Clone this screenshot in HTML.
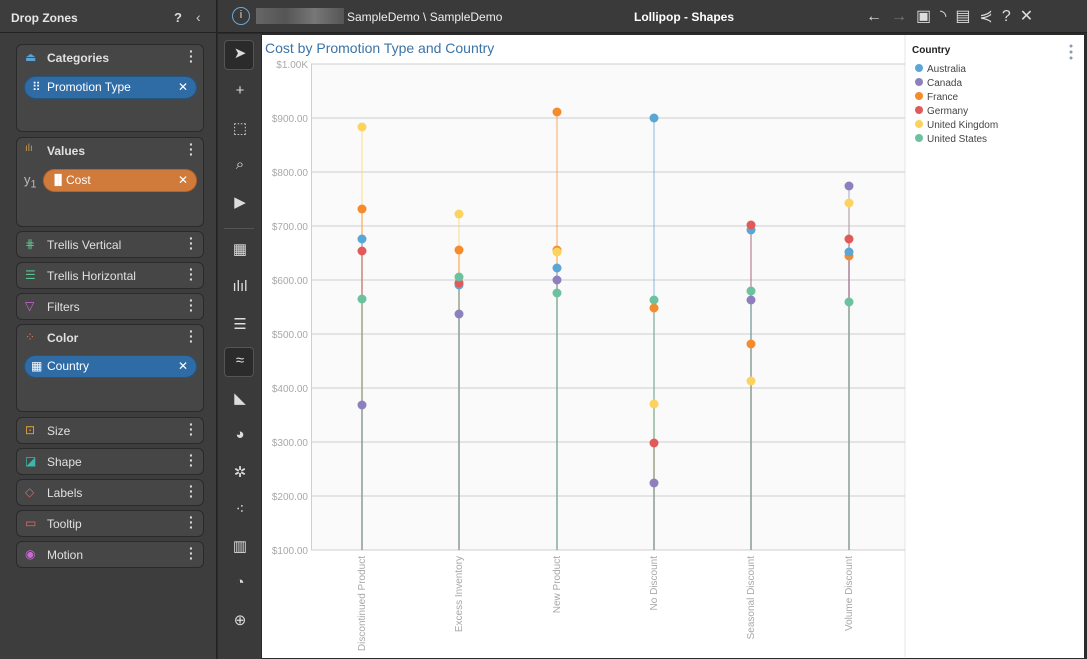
<!DOCTYPE html>
<html><head><meta charset="utf-8"><style>
*{box-sizing:border-box;margin:0;padding:0}
body{width:1087px;height:659px;background:#2b2b2b;font-family:"Liberation Sans",sans-serif;overflow:hidden;position:relative}
.a{position:absolute}
.card{position:absolute;left:16px;width:188px;background:#464646;border:1px solid #2a2a2a;border-radius:6px;color:#e0e0e0;font-size:12px}
.card .t{position:absolute;left:30px;top:6px;font-weight:bold}
.card .ic{position:absolute;left:8px;top:5px;font-size:12px}
.card .dots{position:absolute;right:10px;top:4px;font-weight:bold;font-size:14px;line-height:5px;width:4px;color:#ddd}
.pill{position:absolute;left:7px;width:173px;height:23px;border-radius:12px;color:#fff;font-size:12px;line-height:21px;padding-left:22px}
.pill .x{position:absolute;right:8px;top:0}
.tb{position:absolute;left:226px;width:28px;text-align:center;color:#ddd;font-size:15px}
</style></head><body>
<!-- left panel -->
<div class="a" style="left:0;top:0;width:217px;height:659px;background:#3d3d3d;border-right:1px solid #222"></div>
<div class="a" style="left:0;top:32px;width:217px;height:1px;background:#222"></div>
<div class="a" style="left:11px;top:11px;color:#e6e6e6;font-size:12px;font-weight:bold">Drop Zones</div>
<div class="a" style="left:174px;top:10px;color:#ddd;font-size:13px;font-weight:bold">?</div>
<div class="a" style="left:196px;top:9px;color:#ccc;font-size:14px">‹</div>

<div class="card" style="top:44px;height:88px"><span class="ic" style="color:#5ba3d6">⏏</span><span class="t">Categories</span><div class="dots">·<br>·<br>·</div>
<div class="pill" style="top:31px;background:#2f6ca6;border:1px solid #24557f"><span style="position:absolute;left:7px">⠿</span>Promotion Type<span class="x">✕</span></div></div>
<div class="card" style="top:137px;height:90px"><span class="ic" style="color:#c9954d;font-size:10px">ılı</span><span class="t">Values</span><div class="dots">·<br>·<br>·</div>
<span style="position:absolute;left:7px;top:34px;color:#bbb;font-size:13px">y<sub>1</sub></span>
<div class="pill" style="top:31px;left:26px;width:154px;background:#d07a3c;border:1px solid #b86428"><span style="position:absolute;left:7px;font-size:10px">▐▌</span>Cost<span class="x">✕</span></div></div>
<div class="card" style="top:231px;height:27px"><span class="ic" style="color:#5bc08f">⋕</span><span class="t" style="font-weight:normal">Trellis Vertical</span><div class="dots">·<br>·<br>·</div></div>
<div class="card" style="top:262px;height:27px"><span class="ic" style="color:#5bc08f">☰</span><span class="t" style="font-weight:normal">Trellis Horizontal</span><div class="dots">·<br>·<br>·</div></div>
<div class="card" style="top:293px;height:27px"><span class="ic" style="color:#c86bd0">▽</span><span class="t" style="font-weight:normal">Filters</span><div class="dots">·<br>·<br>·</div></div>
<div class="card" style="top:324px;height:88px"><span class="ic" style="color:#d9785a">⁘</span><span class="t">Color</span><div class="dots">·<br>·<br>·</div>
<div class="pill" style="top:30px;background:#2f6ca6;border:1px solid #24557f"><span style="position:absolute;left:6px">▦</span>Country<span class="x">✕</span></div></div>
<div class="card" style="top:417px;height:27px"><span class="ic" style="color:#e3a33b">⊡</span><span class="t" style="font-weight:normal">Size</span><div class="dots">·<br>·<br>·</div></div>
<div class="card" style="top:448px;height:27px"><span class="ic" style="color:#3fb7a8">◪</span><span class="t" style="font-weight:normal">Shape</span><div class="dots">·<br>·<br>·</div></div>
<div class="card" style="top:479px;height:27px"><span class="ic" style="color:#e06a6a">◇</span><span class="t" style="font-weight:normal">Labels</span><div class="dots">·<br>·<br>·</div></div>
<div class="card" style="top:510px;height:27px"><span class="ic" style="color:#e06a6a">▭</span><span class="t" style="font-weight:normal">Tooltip</span><div class="dots">·<br>·<br>·</div></div>
<div class="card" style="top:541px;height:27px"><span class="ic" style="color:#c86bd0">◉</span><span class="t" style="font-weight:normal">Motion</span><div class="dots">·<br>·<br>·</div></div>

<!-- top bar -->
<div class="a" style="left:218px;top:0;width:869px;height:33px;background:#3a3a3a;border-bottom:1px solid #222"></div>
<div class="a" style="left:232px;top:7px;width:18px;height:18px;border:1.5px solid #6aa6d6;border-radius:50%;color:#ddd;font-size:11px;text-align:center;line-height:15px">i</div>
<div class="a" style="left:256px;top:8px;width:88px;height:16px;background:linear-gradient(90deg,#666,#555,#777,#555)"></div>
<div class="a" style="left:347px;top:10px;color:#eee;font-size:12px">SampleDemo \ SampleDemo</div>
<div class="a" style="left:634px;top:10px;color:#fff;font-size:12px;font-weight:bold">Lollipop - Shapes</div>
<div class="a" style="left:866px;top:6px;color:#ddd;font-size:16px;letter-spacing:9px">←<span style="color:#777">→</span>▣◝▤⋞?✕</div>

<!-- toolbar -->
<div class="a" style="left:218px;top:34px;width:43px;height:625px;background:#3a3a3a"></div>
<div class="a" style="left:224px;top:40px;width:30px;height:30px;background:#2b2b2b;border:1px solid #555;border-radius:4px"></div>
<div class="a" style="left:224px;top:347px;width:30px;height:30px;background:#2b2b2b;border:1px solid #555;border-radius:4px"></div>
<div class="tb" style="top:44px">➤</div><div class="tb" style="top:82px">+</div><div class="tb" style="top:119px">⬚</div>
<div class="tb" style="top:156px">⌕</div><div class="tb" style="top:193px">▶</div>
<div class="a" style="left:224px;top:228px;width:30px;height:1px;background:#555"></div>
<div class="tb" style="top:240px">▦</div><div class="tb" style="top:278px">ılıl</div><div class="tb" style="top:315px">☰</div>
<div class="tb" style="top:352px">≈</div><div class="tb" style="top:389px">◣</div><div class="tb" style="top:426px">◕</div>
<div class="tb" style="top:463px">✲</div><div class="tb" style="top:500px">⁖</div><div class="tb" style="top:537px">▥</div>
<div class="tb" style="top:574px">◔</div><div class="tb" style="top:611px">⊕</div>

<!-- chart -->
<div class="a" style="left:262px;top:35px;width:822px;height:623px;background:#fff"></div>
<svg class="a" style="left:0;top:0" width="1087" height="659" font-family="Liberation Sans, sans-serif">
<rect x="311" y="64" width="594" height="486" fill="#fafafa"/>
<line x1="905" y1="35" x2="905" y2="657" stroke="#e4e4e4"/>
<text x="265" y="53" font-size="14" fill="#3b73a8">Cost by Promotion Type and Country</text>
<g stroke="#cfcfcf" stroke-width="1">
<line x1="311" y1="64" x2="905" y2="64"/><line x1="311" y1="118" x2="905" y2="118"/><line x1="311" y1="172" x2="905" y2="172"/>
<line x1="311" y1="226" x2="905" y2="226"/><line x1="311" y1="280" x2="905" y2="280"/><line x1="311" y1="334" x2="905" y2="334"/>
<line x1="311" y1="388" x2="905" y2="388"/><line x1="311" y1="442" x2="905" y2="442"/><line x1="311" y1="496" x2="905" y2="496"/>
<line x1="311" y1="550" x2="905" y2="550"/><line x1="311.5" y1="64" x2="311.5" y2="550"/>
</g>
<g font-size="10" fill="#a8a8a8" text-anchor="end">
<text x="308" y="68">$1.00K</text><text x="308" y="122">$900.00</text><text x="308" y="176">$800.00</text>
<text x="308" y="230">$700.00</text><text x="308" y="284">$600.00</text><text x="308" y="338">$500.00</text>
<text x="308" y="392">$400.00</text><text x="308" y="446">$300.00</text><text x="308" y="500">$200.00</text><text x="308" y="554">$100.00</text>
</g>
<g font-size="10" fill="#a8a8a8" text-anchor="end">
<text transform="translate(365,556) rotate(-90)">Discontinued Product</text>
<text transform="translate(462,556) rotate(-90)">Excess Inventory</text>
<text transform="translate(560,556) rotate(-90)">New Product</text>
<text transform="translate(657,556) rotate(-90)">No Discount</text>
<text transform="translate(754,556) rotate(-90)">Seasonal Discount</text>
<text transform="translate(852,556) rotate(-90)">Volume Discount</text>
</g>
<g id="d" stroke-width="1.2" stroke-opacity="0.6">
<!-- x, y, color -->
<g stroke="#fbd35e"><line x1="362" y1="550" x2="362" y2="127"/><line x1="459" y1="550" x2="459" y2="214"/><line x1="557" y1="550" x2="557" y2="251"/><line x1="654" y1="550" x2="654" y2="404"/><line x1="751" y1="550" x2="751" y2="381"/><line x1="849" y1="550" x2="849" y2="203"/></g>
<g stroke="#f68b2c"><line x1="362" y1="550" x2="362" y2="209"/><line x1="459" y1="550" x2="459" y2="250"/><line x1="557" y1="550" x2="557" y2="112"/><line x1="654" y1="550" x2="654" y2="308"/><line x1="751" y1="550" x2="751" y2="344"/><line x1="849" y1="550" x2="849" y2="256"/></g>
<g stroke="#5aa6d6"><line x1="362" y1="550" x2="362" y2="239"/><line x1="459" y1="550" x2="459" y2="285"/><line x1="557" y1="550" x2="557" y2="268"/><line x1="654" y1="550" x2="654" y2="118"/><line x1="751" y1="550" x2="751" y2="230"/><line x1="849" y1="550" x2="849" y2="252"/></g>
<g stroke="#e05a5a"><line x1="362" y1="550" x2="362" y2="251"/><line x1="459" y1="550" x2="459" y2="283"/><line x1="654" y1="550" x2="654" y2="443"/><line x1="751" y1="550" x2="751" y2="225"/><line x1="849" y1="550" x2="849" y2="239"/></g>
<g stroke="#8e80bc"><line x1="362" y1="550" x2="362" y2="405"/><line x1="459" y1="550" x2="459" y2="314"/><line x1="557" y1="550" x2="557" y2="280"/><line x1="654" y1="550" x2="654" y2="483"/><line x1="751" y1="550" x2="751" y2="300"/><line x1="849" y1="550" x2="849" y2="186"/></g>
<g stroke="#6cc19f"><line x1="362" y1="550" x2="362" y2="299"/><line x1="459" y1="550" x2="459" y2="277"/><line x1="557" y1="550" x2="557" y2="293"/><line x1="654" y1="550" x2="654" y2="300"/><line x1="751" y1="550" x2="751" y2="291"/><line x1="849" y1="550" x2="849" y2="302"/></g>
</g>
<g>
<g fill="#fbd35e"><circle cx="362" cy="127" r="4.5"/><circle cx="459" cy="214" r="4.5"/><circle cx="654" cy="404" r="4.5"/><circle cx="751" cy="381" r="4.5"/><circle cx="849" cy="203" r="4.5"/></g>
<g fill="#f68b2c"><circle cx="362" cy="209" r="4.5"/><circle cx="459" cy="250" r="4.5"/><circle cx="557" cy="112" r="4.5"/><circle cx="557" cy="250" r="4.5"/><circle cx="654" cy="308" r="4.5"/><circle cx="751" cy="344" r="4.5"/><circle cx="849" cy="256" r="4.5"/></g>
<circle cx="557" cy="252" r="4.5" fill="#fbd35e"/>
<g fill="#5aa6d6"><circle cx="362" cy="239" r="4.5"/><circle cx="459" cy="285" r="4.5"/><circle cx="557" cy="268" r="4.5"/><circle cx="654" cy="118" r="4.5"/><circle cx="751" cy="230" r="4.5"/><circle cx="849" cy="252" r="4.5"/></g>
<g fill="#e05a5a"><circle cx="362" cy="251" r="4.5"/><circle cx="459" cy="283" r="4.5"/><circle cx="654" cy="443" r="4.5"/><circle cx="751" cy="225" r="4.5"/><circle cx="849" cy="239" r="4.5"/></g>
<g fill="#8e80bc"><circle cx="362" cy="405" r="4.5"/><circle cx="459" cy="314" r="4.5"/><circle cx="557" cy="280" r="4.5"/><circle cx="654" cy="483" r="4.5"/><circle cx="751" cy="300" r="4.5"/><circle cx="849" cy="186" r="4.5"/></g>
<g fill="#6cc19f"><circle cx="362" cy="299" r="4.5"/><circle cx="459" cy="277" r="4.5"/><circle cx="557" cy="293" r="4.5"/><circle cx="654" cy="300" r="4.5"/><circle cx="751" cy="291" r="4.5"/><circle cx="849" cy="302" r="4.5"/></g>
</g>
<text x="912" y="53" font-size="10" font-weight="bold" fill="#222">Country</text>
<g fill="#8a9bb0"><circle cx="1071" cy="46" r="1.5"/><circle cx="1071" cy="52" r="1.5"/><circle cx="1071" cy="58" r="1.5"/></g>
<g font-size="10" fill="#444">
<circle cx="919" cy="68" r="4" fill="#5aa6d6"/><text x="927" y="72">Australia</text>
<circle cx="919" cy="82" r="4" fill="#8e80bc"/><text x="927" y="86">Canada</text>
<circle cx="919" cy="96" r="4" fill="#f68b2c"/><text x="927" y="100">France</text>
<circle cx="919" cy="110" r="4" fill="#e05a5a"/><text x="927" y="114">Germany</text>
<circle cx="919" cy="124" r="4" fill="#fbd35e"/><text x="927" y="128">United Kingdom</text>
<circle cx="919" cy="138" r="4" fill="#6cc19f"/><text x="927" y="142">United States</text>
</g>
</svg>
</body></html>
